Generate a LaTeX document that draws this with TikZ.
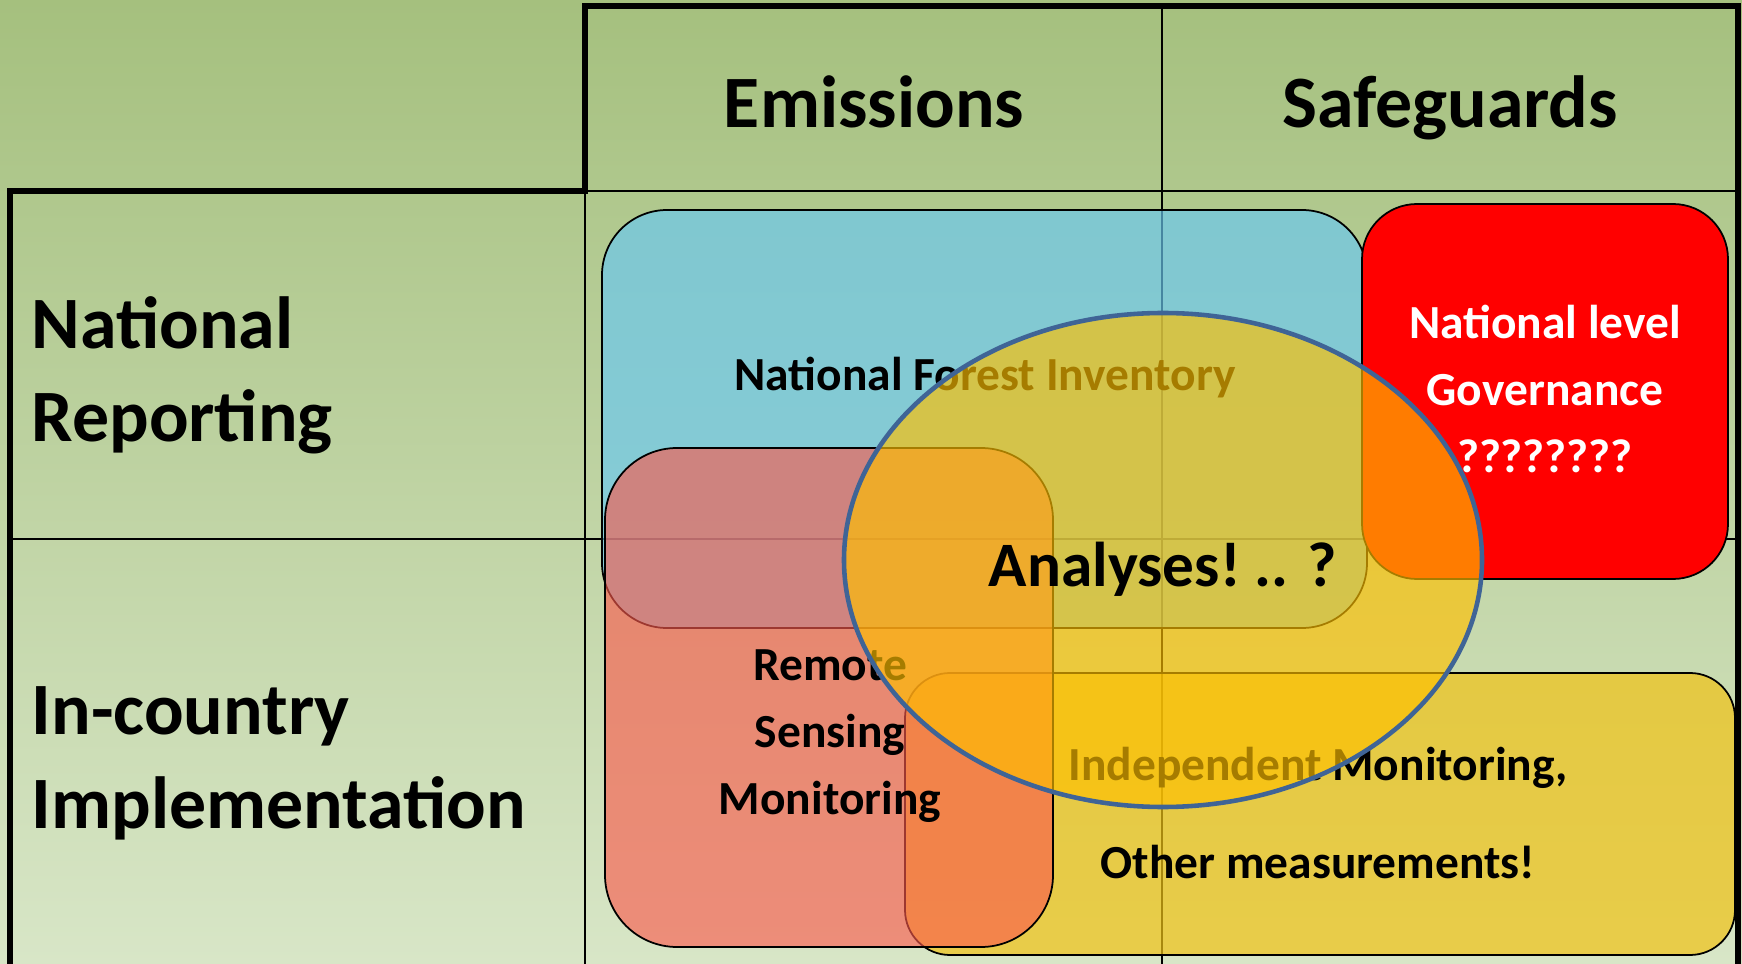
\documentclass[tikz,border=0pt]{standalone}
\usepackage{fontspec}
\setmainfont{Carlito}

\definecolor{bgtop}{RGB}{165,192,126}
\definecolor{bgbottom}{RGB}{216,230,199}
\definecolor{nfiblue}{RGB}{105,200,240}
\definecolor{govred}{RGB}{255,0,0}
\definecolor{indyellow}{RGB}{240,194,21}
\definecolor{rspink}{RGB}{250,90,77}
\definecolor{anagold}{RGB}{255,192,0}
\definecolor{anaedge}{RGB}{63,100,150}

\tikzset{
  thickrule/.style={line width=1.6pt},
  thinrule/.style={line width=0.65pt},
  headtext/.style={font=\fontsize{21}{26.7}\selectfont\bfseries, inner sep=0pt},
  boxtext/.style={font=\fontsize{13.5}{19}\selectfont\bfseries, inner sep=0pt, align=center},
  areabox/.style={draw=black, line width=0.5pt},
}

\begin{document}
\begin{tikzpicture}[x=0.01cm,y=-0.01cm]
	\useasboundingbox (0,0) rectangle (1742,964);
	% background
	\shade[top color=bgtop, bottom color=bgbottom] (0,0) rectangle (1742,964);
	% table rules
	\draw[thinrule] (1162,6) -- (1162,964);
	\draw[thinrule] (585,191) -- (1738,191);
	\draw[thinrule] (10,539) -- (1738,539);
	\draw[thinrule] (585,191) -- (585,964);
	\draw[thickrule] (10,964) -- (10,191) -- (585,191) -- (585,6) -- (1738,6) -- (1738,964);
	% column and row heads (base = last line)
	\node[headtext, anchor=base] (emissions) at (874,128) {Emissions};
	\node[headtext, anchor=base] (safeguards) at (1450,128) {Safeguards};
	\node[headtext, anchor=base west, align=left] (natrep) at (31,442) {National\\Reporting};
	\node[headtext, anchor=base west, align=left] (incountry) at (31,828) {In-country\\Implementation};
	% forest inventory
	\draw[areabox, fill=nfiblue, fill opacity=0.67, rounded corners=0.65cm] (602,210) rectangle (1367,628);
	\node[boxtext, anchor=base] (nfi) at (985,391) {National Forest Inventory};
	% governance
	\draw[areabox, fill=govred, rounded corners=0.55cm] (1362,204) rectangle (1728,579);
	\node[boxtext, text=white, anchor=base] (gov) at (1545,472) {National level\\Governance\\????????};
	% independent monitoring
	\draw[areabox, fill=indyellow, fill opacity=0.7, rounded corners=0.45cm] (905,673) rectangle (1735,955);
	\node[boxtext, anchor=base] (indep) at (1318,878) {Independent Monitoring,\\[8.6pt]Other measurements!};
	% remote sensing
	\draw[areabox, fill=rspink, fill opacity=0.63, rounded corners=0.72cm] (605,448) rectangle (1053,947);
	\node[boxtext, anchor=base] (rs) at (830,814) {Remote\\Sensing\\Monitoring};
	% analyses
	\draw[draw=anaedge, line width=1.3pt, fill=anagold, fill opacity=0.65] (1163,560) ellipse [x radius=319, y radius=247];
	\node[font=\fontsize{18}{22}\selectfont\bfseries, inner sep=0pt, anchor=base] (ana) at (1163,587) {Analyses!\ .. ?};
\end{tikzpicture}
\end{document}
